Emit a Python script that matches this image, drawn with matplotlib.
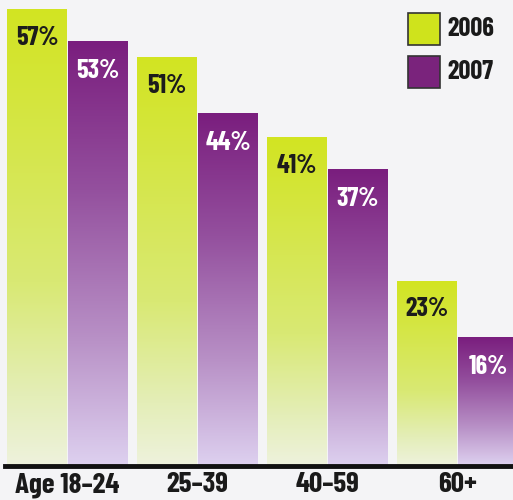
import numpy as np
import matplotlib
matplotlib.use("Agg")
import matplotlib.pyplot as plt
from matplotlib.colors import LinearSegmentedColormap
from matplotlib.patches import Rectangle

groups = ["Age 18\u201324", "25\u201339", "40\u201359", "60+"]
series = ["2006", "2007"]
values_2006 = [57, 51, 41, 23]
values_2007 = [53, 44, 37, 16]

plt.rcParams['font.family'] = ['Barlow Condensed', 'DejaVu Sans']

bg = "#f4f4f6"
green_cmap = LinearSegmentedColormap.from_list(
    "g", [(0.0, "#eef2dc"), (0.15, "#e4eeb8"), (0.4, "#d9e974"), (1.0, "#d2e422")])
purple_cmap = LinearSegmentedColormap.from_list(
    "p", [(0.0, "#ddd0ef"), (0.3, "#b890c6"), (0.65, "#94509e"), (1.0, "#7a1e7e")])

fig = plt.figure(figsize=(5.13, 5.0), dpi=100, facecolor=bg)
ax = fig.add_axes([0, 0.07, 1, 0.93])
ax.set_facecolor(bg)

width = 0.46
offset = 0.235
x = np.arange(len(groups))


def grad_bar(xc, h, cmap):
    grad = np.linspace(0, 1, 256).reshape(-1, 1)
    ax.imshow(grad, extent=[xc - width / 2, xc + width / 2, 0, h],
              origin="lower", aspect="auto", cmap=cmap, zorder=2)


for i in range(len(groups)):
    grad_bar(x[i] - offset, values_2006[i], green_cmap)
    grad_bar(x[i] + offset, values_2007[i], purple_cmap)
    ax.text(x[i] - offset, values_2006[i] - 3.5, f"{values_2006[i]}%",
            ha="center", va="center", fontsize=19, fontweight="bold",
            color="#1c1c1c", zorder=3)
    ax.text(x[i] + offset, values_2007[i] - 3.7, f"{values_2007[i]}%",
            ha="center", va="center", fontsize=19, fontweight="bold",
            color="white", zorder=3)

left = -0.519
ax.set_xlim(left, left + 513 / 130)
ax.set_ylim(0, 58.25)
ax.axis("off")

# baseline
fig.add_artist(plt.Line2D([5 / 513, 1], [0.069, 0.069], color="#111111", lw=3.5))

for i, g in enumerate(groups):
    xp = ax.transData.transform((x[i], 0))[0] / 513
    fig.text(xp, 0.03, g, ha="center", va="center", fontsize=21,
             fontweight="bold", color="#1a1a1a")

# legend
leg_colors = ["#cfe31c", "#7a237c"]
for j, name in enumerate(series):
    y0 = 1 - (45 + j * 43) / 500
    fig.add_artist(Rectangle((408 / 513, y0), 32 / 513, 32 / 500,
                             facecolor=leg_colors[j], edgecolor="#333333", lw=1.2))
    fig.text(447 / 513, y0 + 16 / 500, name, ha="left", va="center",
             fontsize=19, fontweight="bold", color="#1a1a1a")

fig.savefig("out.png", dpi=100, facecolor=bg)
